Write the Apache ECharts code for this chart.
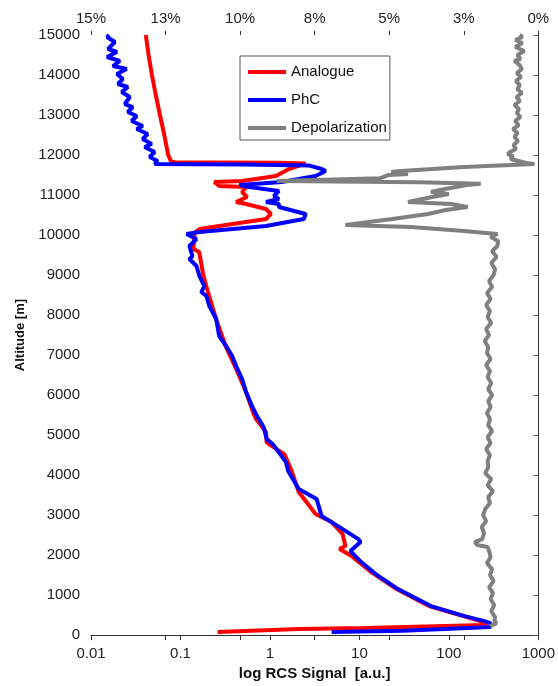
<!DOCTYPE html>
<html><head><meta charset="utf-8">
<script src="https://cdn.jsdelivr.net/npm/echarts@6/dist/echarts.min.js"></script>
<style>html,body{margin:0;padding:0;background:#fff}#c{width:558px;height:686px}</style>
</head><body><div id="c"></div>
<script>
// [altitude m, log RCS signal a.u.]
const analogue = [
[15000,0.041],[14500,0.044],[14000,0.048],[13500,0.053],[13000,0.059],[12500,0.066],[12000,0.073],[11850,0.078],[11820,0.085],
[11805,1.2],[11790,2.51],[11650,1.63],[11475,1.17],[11350,0.489],[11325,0.239],[11225,0.271],[11200,0.541],[11075,0.489],
[10950,0.555],[10825,0.419],[10775,0.541],[10650,0.903],[10525,1.026],[10400,0.903],[10150,0.163],[10050,0.143],[9650,0.14],
[9575,0.162],[9000,0.18],[8725,0.194],[7900,0.25],[7225,0.32],[6650,0.42],[6075,0.54],[5525,0.66],[5400,0.70],[5075,0.903],
[4825,0.92],[4775,0.97],[4525,1.45],[4100,1.75],[3575,2.1],[3025,3.24],[2825,4.89],[2525,6.5],[2225,6.98],[2150,6.0],
[1975,8.2],[1575,13.6],[1150,26],[725,60],[475,145],[325,245],[260,265],[250,250],[175,11.6],[150,2.1],[75,0.26]
];
const phc = [
[15000,0.016],[14950,0.0151],[14825,0.0185],[14650,0.0155],[14575,0.0195],[14450,0.0151],[14350,0.021],[14225,0.0176],
[14150,0.025],[14025,0.0195],[13900,0.0227],[13775,0.0200],[13700,0.0258],[13575,0.0221],[13450,0.0271],[13275,0.0239],
[13200,0.0293],[13075,0.0258],[12975,0.0324],[12850,0.0285],[12725,0.0378],[12650,0.0324],[12525,0.0430],[12400,0.0378],
[12275,0.0476],[12200,0.0398],[12075,0.0514],[11950,0.0453],[11850,0.0555],[11775,0.0514],[11760,0.5],[11740,2.71],
[11650,3.8],[11600,4.19],[11475,3.24],[11400,2.10],[11325,1.36],[11250,0.453],[11200,0.585],[11100,1.26],[10975,1.107],
[10900,1.26],[10825,0.903],[10775,1.26],[10700,1.26],[10525,2.51],[10400,2.39],[10225,0.903],[10075,0.163],[10025,0.117],
[9900,0.151],[9725,0.126],[9475,0.136],[9400,0.126],[9225,0.151],[8975,0.163],[8725,0.185],[8575,0.171],[8475,0.195],
[8225,0.210],[7900,0.251],[7475,0.271],[7225,0.324],[6975,0.378],[6725,0.419],[6400,0.489],[6075,0.541],[5725,0.631],
[5475,0.717],[5200,0.85],[4900,0.92],[4750,1.1],[4325,1.51],[4100,1.6],[3650,2.10],[3400,3.33],[2975,3.78],[2700,6.0],
[2400,9.75],[2325,10.3],[2100,7.94],[1825,10.5],[1525,15.2],[1150,27],[725,63],[475,150],[350,250],[300,290],[250,295],
[200,290],[150,90],[110,30],[75,4.9]
];
// [altitude m, depolarization %]
const depolarization = [
[15000,0.63],[14950,0.53],[14875,0.77],[14800,0.53],[14700,0.77],[14600,0.47],[14500,0.70],[14400,0.60],[14350,0.80],
[14250,0.63],[14150,0.55],[14050,0.72],[13950,0.58],[13850,0.75],[13750,0.62],[13650,0.70],[13550,0.55],[13450,0.73],
[13350,0.62],[13250,0.80],[13150,0.65],[13050,0.72],[12950,0.60],[12850,0.78],[12750,0.66],[12650,0.85],[12550,0.70],
[12450,0.80],[12350,0.68],[12250,0.83],[12150,0.75],[12075,0.95],[12025,1.03],[11975,0.85],[11900,0.93],[11800,0.40],
[11775,0.13],[11700,2.5],[11600,4.6],[11575,4.93],[11525,4.37],[11500,5.03],[11420,5.3],[11350,8.77],[11320,4.0],
[11280,1.93],[11250,2.4],[11125,3.3],[11075,3.6],[11025,3.0],[10975,3.37],[10900,3.9],[10825,4.37],[10775,2.93],
[10700,2.37],[10625,3.1],[10525,3.7],[10400,4.9],[10250,6.47],[10200,4.27],[10100,2.5],[10025,1.37],[9950,1.6],
[9850,1.35],[9725,1.37],[9600,1.55],[9450,1.40],[9300,1.58],[9150,1.45],[9000,1.50],[8850,1.65],[8700,1.55],[8550,1.72],
[8400,1.60],[8250,1.75],[8100,1.62],[7950,1.70],[7800,1.58],[7650,1.75],[7500,1.65],[7350,1.80],[7200,1.68],[7050,1.72],
[6900,1.60],[6750,1.75],[6600,1.62],[6450,1.70],[6300,1.58],[6150,1.68],[6000,1.55],[5850,1.68],[5700,1.60],[5550,1.72],
[5400,1.62],[5250,1.68],[5100,1.55],[4950,1.70],[4800,1.60],[4650,1.75],[4500,1.62],[4350,1.70],[4200,1.68],[4050,1.78],
[3900,1.58],[3750,1.70],[3600,1.52],[3450,1.68],[3300,1.62],[3150,1.78],[3000,1.85],[2850,1.75],[2700,1.90],[2550,1.82],
[2400,1.88],[2325,2.13],[2250,2.05],[2200,1.70],[2100,1.65],[1950,1.60],[1800,1.72],[1650,1.55],[1500,1.62],[1350,1.50],
[1200,1.65],[1050,1.52],[900,1.60],[750,1.48],[600,1.58],[450,1.45],[350,1.47],[300,1.40],[250,1.55],[225,1.62]
];
const seriesNames = ['Analogue','PhC','Depolarization'];
const seriesColors = ['#ff0000','#0000ff','#808080'];

const FONT = "'Liberation Sans', Arial, sans-serif";
const chart = echarts.init(document.getElementById('c'), null, {renderer:'canvas'});
const toXY = arr => arr.map(p => [p[1], p[0]]);
const lbl = {color:'#222', fontSize:15, fontFamily:FONT};
chart.setOption({
  animation:false,
  backgroundColor:'#fff',
  grid:{left:91, right:17, top:35, bottom:50, containLabel:false},
  legend:{
    orient:'vertical', left:240, top:56, padding:[8,3,4,8],
    backgroundColor:'#fff', borderColor:'#555', borderWidth:1, borderRadius:0,
    icon:'rect', itemWidth:38, itemHeight:4, itemGap:12,
    textStyle:{fontSize:15, fontFamily:FONT, color:'#111', lineHeight:16},
    data:seriesNames
  },
  xAxis:[
    {type:'log', logBase:10, min:0.01, max:1000, position:'bottom',
     name:'log RCS Signal  [a.u.]', nameLocation:'middle', nameGap:27,
     nameTextStyle:{fontSize:15, fontWeight:'bold', fontFamily:FONT, color:'#111'},
     axisLine:{show:true, lineStyle:{color:'#333', width:1}},
     axisTick:{show:true, inside:false, length:5, lineStyle:{color:'#333'}},
     axisLabel:Object.assign({margin:11, formatter:v=>String(parseFloat(Number(v).toPrecision(3)))}, lbl),
     splitLine:{show:false}, minorTick:{show:false}},
    {type:'value', min:0, max:15, interval:2.5, inverse:true, position:'top',
     axisLine:{show:true, lineStyle:{color:'#333', width:1}},
     axisTick:{show:true, inside:true, length:5, lineStyle:{color:'#333'}},
     axisLabel:Object.assign({margin:9, formatter:v=>Math.round(v)+'%'}, lbl),
     splitLine:{show:false}},
    {type:'value', min:0, max:15, interval:2.5, inverse:true, position:'top',
     axisLine:{show:false},
     axisTick:{show:true, inside:false, length:4, lineStyle:{color:'#333'}},
     axisLabel:{show:false}, splitLine:{show:false}}
  ],
  yAxis:[
    {type:'value', min:0, max:15000, interval:1000, position:'left',
     name:'Altitude [m]', nameLocation:'middle', nameGap:54,
     nameTextStyle:{fontSize:13, fontWeight:'bold', fontFamily:FONT, color:'#111'},
     axisLine:{show:true, lineStyle:{color:'#888', width:1}},
     axisTick:{show:true, inside:false, length:5, lineStyle:{color:'#555'}},
     axisLabel:Object.assign({margin:11, formatter:v=>String(v)}, lbl),
     splitLine:{show:false}},
    {type:'value', min:0, max:15000, interval:1000, position:'right',
     axisLine:{show:true, lineStyle:{color:'#333', width:1}},
     axisTick:{show:false}, axisLabel:{show:false}, splitLine:{show:false}}
  ],
  series:[
    {name:seriesNames[0], type:'line', xAxisIndex:0, yAxisIndex:0, data:toXY(analogue), showSymbol:false, symbol:'none',
     lineStyle:{color:seriesColors[0], width:4}, itemStyle:{color:seriesColors[0]}},
    {name:seriesNames[1], type:'line', xAxisIndex:0, yAxisIndex:0, data:toXY(phc), showSymbol:false, symbol:'none',
     lineStyle:{color:seriesColors[1], width:4}, itemStyle:{color:seriesColors[1]}},
    {name:seriesNames[2], type:'line', xAxisIndex:1, yAxisIndex:0, data:toXY(depolarization), showSymbol:false, symbol:'none',
     lineStyle:{color:seriesColors[2], width:4}, itemStyle:{color:seriesColors[2]}}
  ]
});
</script></body></html>
